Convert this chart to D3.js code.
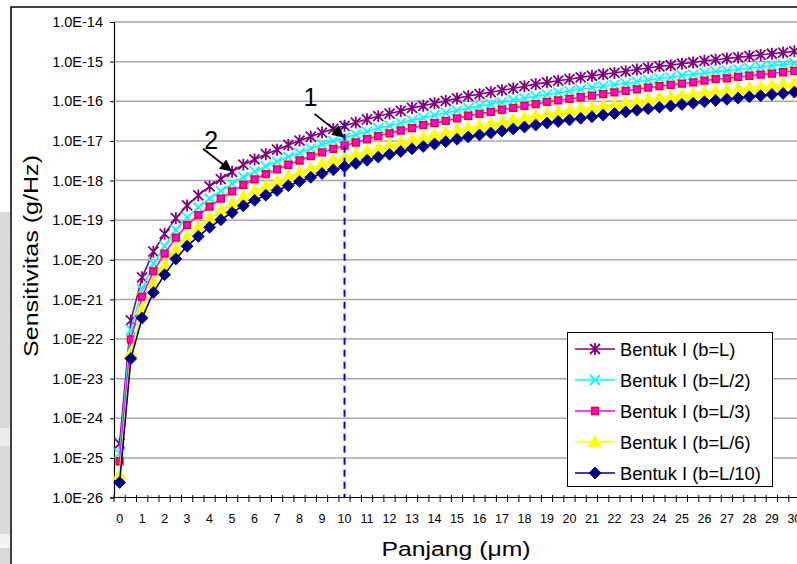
<!DOCTYPE html>
<html><head><meta charset="utf-8">
<script src="https://cdn.jsdelivr.net/npm/d3@7"></script>
<style>
body{margin:0;background:#fff;overflow:hidden;}
svg{display:block;font-family:"Liberation Sans",Arial,sans-serif;}
</style>
</head><body><svg id="c" width="797" height="564"></svg>
<script>
const categories = [0,0.5,1,1.5,2,2.5,3,3.5,4,4.5,5,5.5,6,6.5,7,7.5,8,8.5,9,9.5,10,10.5,11,11.5,12,12.5,13,13.5,14,14.5,15,15.5,16,16.5,17,17.5,18,18.5,19,19.5,20,20.5,21,21.5,22,22.5,23,23.5,24,24.5,25,25.5,26,26.5,27,27.5,28,28.5,29,29.5,30];
const xTickLabels = ["0","1","2","3","4","5","6","7","8","9","10","11","12","13","14","15","16","17","18","19","20","21","22","23","24","25","26","27","28","29","30"];
const yTickValues = [1e-14,1e-15,1e-16,1e-17,1e-18,1e-19,1e-20,1e-21,1e-22,1e-23,1e-24,1e-25,1e-26];
const yTickLabels = ["1.0E-14","1.0E-15","1.0E-16","1.0E-17","1.0E-18","1.0E-19","1.0E-20","1.0E-21","1.0E-22","1.0E-23","1.0E-24","1.0E-25","1.0E-26"];
const seriesNames = ["Bentuk I (b=L)","Bentuk I (b=L/2)","Bentuk I (b=L/3)","Bentuk I (b=L/6)","Bentuk I (b=L/10)"];

const valuesL = [2.3e-25,2.95e-22,3.6e-21,1.6e-20,4.5e-20,1.12e-19,2.35e-19,4.2e-19,7.1e-19,1.09e-18,
1.66e-18,2.5e-18,3.4e-18,4.6e-18,6.0e-18,7.9e-18,1.02e-17,1.28e-17,1.62e-17,2.0e-17,
2.4e-17,2.9e-17,3.5e-17,4.2e-17,4.9e-17,5.7e-17,6.8e-17,7.7e-17,8.9e-17,1.02e-16,
1.18e-16,1.35e-16,1.51e-16,1.69e-16,1.9e-16,2.1e-16,2.4e-16,2.7e-16,3.0e-16,3.3e-16,
3.6e-16,4.0e-16,4.4e-16,4.8e-16,5.2e-16,5.7e-16,6.3e-16,6.9e-16,7.6e-16,8.1e-16,
8.9e-16,9.5e-16,1.05e-15,1.12e-15,1.2e-15,1.28e-15,1.38e-15,1.48e-15,1.58e-15,1.69e-15,1.82e-15];
const valuesL2 = [1.3e-25,1.7e-22,1.8e-21,8.0e-21,2.2e-20,5.6e-20,1.17e-19,2.1e-19,3.5e-19,5.4e-19,
8.2e-19,1.22e-18,1.67e-18,2.3e-18,3.0e-18,3.9e-18,5.0e-18,6.4e-18,8.0e-18,9.9e-18,
1.19e-17,1.43e-17,1.72e-17,2.1e-17,2.4e-17,2.8e-17,3.3e-17,3.8e-17,4.4e-17,5.1e-17,
5.8e-17,6.7e-17,7.5e-17,8.4e-17,9.4e-17,1.06e-16,1.19e-16,1.33e-16,1.49e-16,1.64e-16,
1.8e-16,2.0e-16,2.2e-16,2.4e-16,2.6e-16,2.8e-16,3.1e-16,3.4e-16,3.8e-16,4.0e-16,
4.4e-16,4.7e-16,5.2e-16,5.6e-16,5.9e-16,6.4e-16,6.8e-16,7.3e-16,7.8e-16,8.4e-16,9.0e-16];
const valuesL3 = [8.2e-26,9.8e-23,1.16e-21,5.1e-21,1.43e-20,3.6e-20,7.5e-20,1.33e-19,2.2e-19,3.5e-19,
5.3e-19,7.8e-19,1.07e-18,1.45e-18,1.9e-18,2.5e-18,3.2e-18,4.1e-18,5.1e-18,6.3e-18,
7.6e-18,9.1e-18,1.1e-17,1.32e-17,1.55e-17,1.83e-17,2.1e-17,2.5e-17,2.8e-17,3.2e-17,
3.7e-17,4.3e-17,4.8e-17,5.4e-17,6.1e-17,6.8e-17,7.6e-17,8.5e-17,9.6e-17,1.05e-16,
1.15e-16,1.26e-16,1.38e-16,1.52e-16,1.67e-16,1.83e-16,2.0e-16,2.2e-16,2.4e-16,2.6e-16,
2.8e-16,3.0e-16,3.3e-16,3.6e-16,3.8e-16,4.1e-16,4.4e-16,4.7e-16,5.0e-16,5.4e-16,5.8e-16];
const valuesL6 = [3.8e-26,4.5e-23,5.8e-22,2.6e-21,7.1e-21,1.8e-20,3.7e-20,6.6e-20,1.12e-19,1.73e-19,
2.6e-19,3.9e-19,5.4e-19,7.3e-19,9.5e-19,1.26e-18,1.6e-18,2.0e-18,2.6e-18,3.2e-18,
3.8e-18,4.6e-18,5.5e-18,6.6e-18,7.8e-18,9.1e-18,1.07e-17,1.23e-17,1.41e-17,1.62e-17,
1.87e-17,2.1e-17,2.4e-17,2.7e-17,3.0e-17,3.4e-17,3.8e-17,4.3e-17,4.8e-17,5.3e-17,
5.8e-17,6.3e-17,6.9e-17,7.6e-17,8.3e-17,9.1e-17,1.0e-16,1.1e-16,1.2e-16,1.29e-16,
1.41e-16,1.51e-16,1.66e-16,1.79e-16,1.9e-16,2.0e-16,2.2e-16,2.3e-16,2.5e-16,2.7e-16,2.9e-16];
const valuesL10 = [2.4e-26,3.2e-23,3.4e-22,1.5e-21,4.2e-21,1.05e-20,2.2e-20,3.9e-20,6.6e-20,1.02e-19,
1.55e-19,2.3e-19,3.16e-19,4.27e-19,5.6e-19,7.4e-19,9.5e-19,1.2e-18,1.51e-18,1.86e-18,
2.24e-18,2.69e-18,3.24e-18,3.89e-18,4.57e-18,5.37e-18,6.31e-18,7.24e-18,8.32e-18,9.55e-18,
1.10e-17,1.26e-17,1.41e-17,1.58e-17,1.78e-17,2.0e-17,2.24e-17,2.51e-17,2.82e-17,3.09e-17,
3.39e-17,3.72e-17,4.07e-17,4.47e-17,4.90e-17,5.37e-17,5.89e-17,6.46e-17,7.08e-17,7.59e-17,
8.32e-17,8.91e-17,9.77e-17,1.05e-16,1.12e-16,1.20e-16,1.29e-16,1.38e-16,1.48e-16,1.58e-16,1.70e-16];

const seriesValues = [valuesL, valuesL2, valuesL3, valuesL6, valuesL10];
const seriesColors = ["#800080","#00ffff","#ff00ff","#ffff00","#000080"];
const markerTypes = ["star","x","square","triangle","diamond"];

const svg = d3.select("#c");
const W = 797, H = 564;
const plot = {left:114, top:22, right:800, bottom:497.5};

// page background bits
svg.append("rect").attr("x",0).attr("y",0).attr("width",W).attr("height",H).attr("fill","#fff");
svg.append("rect").attr("x",0).attr("y",212).attr("width",10.5).attr("height",H-212).attr("fill","#d9d9d9");
svg.append("rect").attr("x",0).attr("y",428).attr("width",10.5).attr("height",18).attr("fill","#ececec");
svg.append("rect").attr("x",0).attr("y",534).attr("width",10.5).attr("height",14).attr("fill","#f2f2f2");
// chart area border
svg.append("path").attr("d",`M11,${H}V7H${W}`).attr("fill","none").attr("stroke","#000").attr("stroke-width",1.5);

const x = d3.scaleBand().domain(d3.range(categories.length)).range([plot.left, plot.right]).paddingInner(0).paddingOuter(0);
const y = d3.scaleLog().domain([1e-26,1e-14]).range([plot.bottom, plot.top]);
const cx = i => x(i) + x.bandwidth()/2;

// gridlines
svg.append("g").selectAll("line").data(yTickValues.slice(0,-1)).join("line")
  .attr("x1",plot.left).attr("x2",W).attr("y1",d=>y(d)).attr("y2",d=>y(d))
  .attr("stroke","#a8a8a8").attr("stroke-width",1.5);

// y axis
const yAxis = d3.axisLeft(y).tickValues(yTickValues).tickFormat((d,i)=>yTickLabels[i]).tickSizeOuter(0).tickSize(4).tickPadding(7);
const gy = svg.append("g").attr("transform",`translate(${plot.left},0)`).call(yAxis);
gy.select(".domain").attr("stroke","#000").attr("stroke-width",1.2);
gy.selectAll(".tick line").attr("stroke","#000");
gy.selectAll("text").attr("font-family","Liberation Sans, Arial, sans-serif").attr("font-size",14.5).attr("fill","#000");

// x axis
svg.append("line").attr("x1",plot.left).attr("x2",W).attr("y1",plot.bottom).attr("y2",plot.bottom).attr("stroke","#000").attr("stroke-width",1.2);
svg.append("g").selectAll("line").data(d3.range(categories.length+1)).join("line")
  .attr("x1",i=>plot.left + i*x.bandwidth()).attr("x2",i=>plot.left + i*x.bandwidth())
  .attr("y1",plot.bottom-2.5).attr("y2",plot.bottom+4.5).attr("stroke","#000").attr("stroke-width",1);
svg.append("g").selectAll("text").data(xTickLabels).join("text")
  .attr("x",(d,i)=>cx(i*2)).attr("y",plot.bottom+25).attr("text-anchor","middle")
  .attr("font-size",12.5).attr("fill","#000").text(d=>d);

// axis titles
svg.append("text").attr("x",456).attr("y",556).attr("text-anchor","middle").attr("font-size",20)
  .attr("textLength",149).attr("lengthAdjust","spacingAndGlyphs").text("Panjang (\u03bcm)");
svg.append("text").attr("transform","translate(38,256) rotate(-90)").attr("text-anchor","middle").attr("font-size",20)
  .attr("textLength",202).attr("lengthAdjust","spacingAndGlyphs").text("Sensitivitas (g/Hz)");

// markers
function markerPath(t){
  switch(t){
    case "star": return "M-5,-5L5,5M-5,5L5,-5M0,-6L0,6";
    case "x": return "M-5,-5L5,5M-5,5L5,-5";
    case "square": return "M-3.4,-3.4H3.4V3.4H-3.4Z";
    case "triangle": return "M0,-6.5L6.5,5H-6.5Z";
    case "diamond": return "M0,-6L6,0L0,6L-6,0Z";
  }
}
function drawMarker(g, t, color){
  const p = g.append("path").attr("d",markerPath(t));
  if(t==="star"||t==="x") p.attr("fill","none").attr("stroke",color).attr("stroke-width",1.8);
  else if(t==="square") p.attr("fill","#ff00ff").attr("stroke","#ff0000").attr("stroke-width",1.5);
  else p.attr("fill",color).attr("stroke",color).attr("stroke-width",0.8);
}

const line = d3.line().x((d,i)=>cx(i)).y(d=>y(d));
seriesValues.forEach((vals,si)=>{
  const g = svg.append("g");
  g.append("path").datum(vals).attr("d",line).attr("fill","none").attr("stroke",seriesColors[si]).attr("stroke-width",1.6);
  vals.forEach((v,i)=>{
    const mg = g.append("g").attr("transform",`translate(${cx(i)},${y(v)})`);
    drawMarker(mg, markerTypes[si], seriesColors[si]);
  });
});

// dashed marker at L=10
const i10 = categories.indexOf(10);
svg.append("line").attr("x1",cx(i10)).attr("x2",cx(i10)).attr("y1",y(valuesL[i10])-4).attr("y2",plot.bottom)
  .attr("stroke","#0000ff").attr("stroke-width",2).attr("stroke-dasharray","7,5");

// annotations with arrows
svg.append("defs").append("marker").attr("id","ah").attr("viewBox","0 0 10 10").attr("refX",9).attr("refY",5)
  .attr("markerWidth",17).attr("markerHeight",12).attr("markerUnits","userSpaceOnUse").attr("orient","auto")
  .append("path").attr("d","M0,0L10,5L0,10Z").attr("fill","#000");
const ann = [
  {label:"1", i:i10, v:valuesL2[i10], dx:-30, dy:-24, tx:-34, ty:-32},
  {label:"2", i:categories.indexOf(5), v:valuesL[categories.indexOf(5)], dx:-29, dy:-23, tx:-21, ty:-23}
];
ann.forEach(a=>{
  const px = cx(a.i), py = y(a.v);
  svg.append("line").attr("x1",px+a.dx).attr("y1",py+a.dy).attr("x2",px-1).attr("y2",py-1)
    .attr("stroke","#000").attr("stroke-width",1.8).attr("marker-end","url(#ah)");
  svg.append("text").attr("x",px+a.tx).attr("y",py+a.ty).attr("text-anchor","middle").attr("font-size",25).text(a.label);
});

// legend
const lg = svg.append("g");
lg.append("rect").attr("x",567.5).attr("y",332.5).attr("width",205).attr("height",154).attr("fill","#fff").attr("stroke","#000").attr("stroke-width",1);
seriesNames.forEach((n,si)=>{
  const ry = 349 + si*31;
  lg.append("line").attr("x1",575).attr("x2",615).attr("y1",ry).attr("y2",ry).attr("stroke",seriesColors[si]).attr("stroke-width",1.6);
  drawMarker(lg.append("g").attr("transform",`translate(595,${ry})`), markerTypes[si], seriesColors[si]);
  lg.append("text").attr("x",620).attr("y",ry+6.5).attr("font-size",18.3).attr("fill","#000").text(n);
});
</script>
</body></html>
